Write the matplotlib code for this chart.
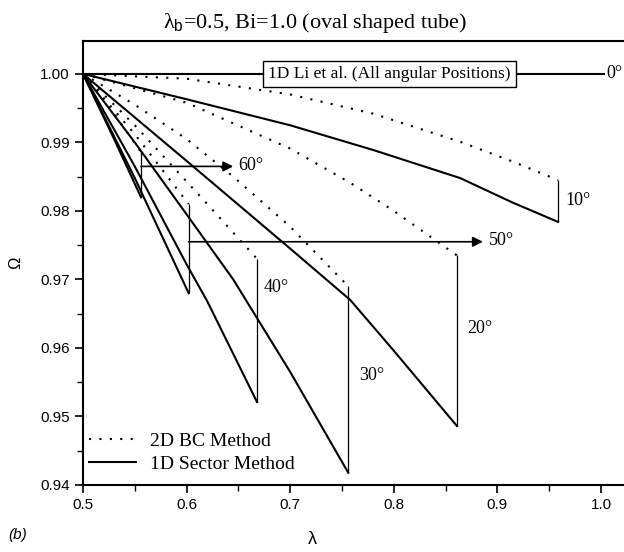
import matplotlib
matplotlib.use("Agg")
import matplotlib.pyplot as plt
from matplotlib.lines import Line2D

# Omega vs lambda for each angular position: 2D BC method (dotted) and 1D sector method (solid)
angles = ["10", "20", "30", "40", "50", "60"]

lam_0 = [0.5, 1.003]
omega_0 = [1.0, 1.0]

lam_10 = [0.5, 0.6, 0.7, 0.78, 0.864, 0.915, 0.9585]
bc_10 = [1.0, 0.9993, 0.9970, 0.9942, 0.9901, 0.9872, 0.9845]
sec_10 = [1.0, 0.9963, 0.9925, 0.9889, 0.9848, 0.9812, 0.9784]

lam_20 = [0.5, 0.6, 0.7, 0.758, 0.8, 0.861]
bc_20 = [1.0, 0.9958, 0.9891, 0.9841, 0.9800, 0.9735]
sec_20 = [1.0, 0.9873, 0.9745, 0.9670, 0.9596, 0.9486]

lam_30 = [0.5, 0.55, 0.6, 0.645, 0.7, 0.756]
bc_30 = [1.0, 0.9955, 0.9905, 0.9850, 0.9777, 0.9690]
sec_30 = [1.0, 0.9900, 0.9795, 0.9700, 0.9565, 0.9418]

lam_40 = [0.5, 0.55, 0.6, 0.62, 0.668]
bc_40 = [1.0, 0.9925, 0.9843, 0.9810, 0.9730]
sec_40 = [1.0, 0.9865, 0.9722, 0.9668, 0.9521]

lam_50 = [0.5, 0.55, 0.602]
bc_50 = [1.0, 0.9912, 0.9810]
sec_50 = [1.0, 0.9848, 0.9680]

lam_60 = [0.5, 0.53, 0.556]
bc_60 = [1.0, 0.9942, 0.9886]
sec_60 = [1.0, 0.9905, 0.9820]

curves = {
    "10": (lam_10, bc_10, sec_10),
    "20": (lam_20, bc_20, sec_20),
    "30": (lam_30, bc_30, sec_30),
    "40": (lam_40, bc_40, sec_40),
    "50": (lam_50, bc_50, sec_50),
    "60": (lam_60, bc_60, sec_60),
}

# label positions (lambda, omega) for the angle tags
label_pos = {
    "0": (1.005, 1.0),
    "10": (0.966, 0.9815),
    "20": (0.871, 0.9628),
    "30": (0.767, 0.9560),
    "40": (0.674, 0.9688),
    "50": (0.892, 0.9757),
    "60": (0.650, 0.9866),
}
# arrows for the two shortest curves: (from lambda, to lambda, omega)
arrows = {"60": (0.556, 0.645, 0.9865), "50": (0.602, 0.886, 0.9755)}

serif = "Liberation Serif"
sans = "Liberation Sans"
plt.rcParams["font.family"] = sans
plt.rcParams["mathtext.fontset"] = "custom"
plt.rcParams["mathtext.rm"] = sans

fig = plt.figure(figsize=(6.24, 5.52), dpi=100)
ax = fig.add_axes([0.133, 0.1214, 0.867, 0.8043])

dot = (0, (1, 4))
ax.plot(lam_0, omega_0, color="k", lw=1.5)
for a in angles:
    lam, bc, sec = curves[a]
    ax.plot(lam, bc, color="k", lw=1.5, linestyle=dot)
    ax.plot(lam, sec, color="k", lw=1.5)
    ax.vlines(lam[-1], sec[-1], bc[-1], color="k", lw=0.9)

for a, (x0, x1, y) in arrows.items():
    ax.annotate("", xy=(x1, y), xytext=(x0, y),
                arrowprops=dict(arrowstyle="-|>", color="k", lw=1.2,
                                mutation_scale=15, shrinkA=0, shrinkB=0))

for a, (x, y) in label_pos.items():
    ax.text(x, y, a + "°", family=serif, fontsize=13, ha="left", va="center")

ax.text(0.796, 1.0, "1D Li et al. (All angular Positions)", family=serif,
        fontsize=12.5, ha="center", va="center",
        bbox=dict(boxstyle="square,pad=0.3", fc="white", ec="k", lw=1.0))

ax.set_xlim(0.5, 1.0222)
ax.set_ylim(0.94, 1.0048)
ax.set_xticks([0.5, 0.6, 0.7, 0.8, 0.9, 1.0])
ax.set_xticklabels(["0.5", "0.6", "0.7", "0.8", "0.9", "1.0"])
ax.set_xticks([0.55, 0.65, 0.75, 0.85, 0.95], minor=True)
ax.set_yticks([0.94, 0.95, 0.96, 0.97, 0.98, 0.99, 1.00])
ax.set_yticklabels(["0.94", "0.95", "0.96", "0.97", "0.98", "0.99", "1.00"])
ax.set_yticks([0.945, 0.955, 0.965, 0.975, 0.985, 0.995], minor=True)
ax.tick_params(which="major", direction="out", length=6, width=1.2, labelsize=11)
ax.tick_params(which="minor", direction="out", length=4, width=1.0)
ax.spines["right"].set_visible(False)
for s in ["left", "bottom", "top"]:
    ax.spines[s].set_linewidth(1.5)

ax.set_ylabel("Ω", fontsize=12, labelpad=12)
fig.text(0.5, 0.022, "λ", fontsize=13, ha="center", va="center")
fig.text(0.028, 0.03, "(b)", fontsize=11, style="italic", ha="center", va="center")
fig.text(0.505, 0.949, r"λ$_{\rm b}$=0.5, Bi=1.0 (oval shaped tube)",
         family=serif, fontsize=16, ha="center", va="baseline")

handles = [Line2D([], [], color="k", lw=1.5, linestyle=dot),
           Line2D([], [], color="k", lw=1.5)]
ax.legend(handles, ["2D BC Method", "1D Sector Method"], loc="lower left",
          bbox_to_anchor=(0.012, 0.028), frameon=False, borderpad=0,
          borderaxespad=0, handlelength=2.4, handletextpad=0.7,
          labelspacing=0.25, prop={"family": serif, "size": 14})

fig.savefig("out.png", dpi=100)
